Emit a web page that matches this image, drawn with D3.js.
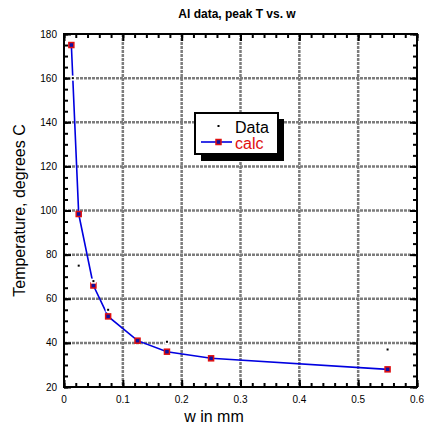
<!DOCTYPE html>
<html>
<head>
<meta charset="utf-8">
<script src="https://cdn.jsdelivr.net/npm/d3@7"></script>
<style>
body { margin: 0; background: #fff; }
text { font-family: Arial, "Liberation Sans", sans-serif; }
</style>
</head>
<body>
<div id="chart"></div>
<script>
// calc series (red squares on blue line)
var calcW = [0.0125, 0.025, 0.05, 0.075, 0.125, 0.175, 0.25, 0.55];
var calcT = [175, 98.4, 66, 52, 41, 36, 33, 28];
// measured data (small dots)
var dataW = [0.015, 0.025, 0.05, 0.075, 0.175, 0.55];
var dataT = [160, 75, 68, 55, 40.5, 37];

var xTicks = [0, 0.1, 0.2, 0.3, 0.4, 0.5, 0.6];
var yTicks = [20, 40, 60, 80, 100, 120, 140, 160, 180];

var width = 424, height = 425;
var pLeft = 64, pRight = 417, pTop = 34, pBottom = 387;

var svg = d3.select('#chart').append('svg')
    .attr('width', width)
    .attr('height', height);

var x = d3.scaleLinear().domain([0, 0.6]).range([pLeft, pRight]);
var y = d3.scaleLinear().domain([20, 180]).range([pBottom, pTop]);

// grid
var grid = svg.append('g')
    .attr('stroke', '#7c7c7c')
    .attr('stroke-width', 2.5)
    .attr('stroke-dasharray', '3,1');
grid.selectAll('.gx').data(xTicks.slice(1, -1)).enter().append('line')
    .attr('x1', d => x(d)).attr('x2', d => x(d))
    .attr('y1', pTop).attr('y2', pBottom);
grid.selectAll('.gy').data(yTicks.slice(1, -1)).enter().append('line')
    .attr('y1', d => y(d)).attr('y2', d => y(d))
    .attr('x1', pLeft).attr('x2', pRight);

// axes with inward ticks on all four sides
function ticks(axis, sc, vals, len) {
    var g = svg.append('g').call(axis(sc).tickValues(vals).tickSize(len).tickFormat(''));
    g.select('.domain').remove();
    g.selectAll('line').attr('stroke', '#000').attr('stroke-width', 2);
    return g;
}
var xMinor = d3.range(0, 0.6001, 0.02);
var yMinor = d3.range(20, 180.01, 5);

ticks(d3.axisTop, x, xMinor, 4).attr('transform', 'translate(0,' + pBottom + ')');
ticks(d3.axisTop, x, xTicks, 7).attr('transform', 'translate(0,' + pBottom + ')');
ticks(d3.axisBottom, x, xMinor, 4).attr('transform', 'translate(0,' + pTop + ')');
ticks(d3.axisBottom, x, xTicks, 7).attr('transform', 'translate(0,' + pTop + ')');
ticks(d3.axisRight, y, yMinor, 4).attr('transform', 'translate(' + pLeft + ',0)');
ticks(d3.axisRight, y, yTicks, 7).attr('transform', 'translate(' + pLeft + ',0)');
ticks(d3.axisLeft, y, yMinor, 4).attr('transform', 'translate(' + pRight + ',0)');
ticks(d3.axisLeft, y, yTicks, 7).attr('transform', 'translate(' + pRight + ',0)');

// frame
svg.append('rect')
    .attr('x', pLeft).attr('y', pTop)
    .attr('width', pRight - pLeft).attr('height', pBottom - pTop)
    .attr('fill', 'none').attr('stroke', '#000').attr('stroke-width', 2);

// tick labels
svg.selectAll('.xl').data(xTicks).enter().append('text')
    .attr('x', d => x(d)).attr('y', 403)
    .attr('text-anchor', 'middle').attr('font-size', 10)
    .text(d => d);
svg.selectAll('.yl').data(yTicks).enter().append('text')
    .attr('x', 57).attr('y', d => y(d) + 3.5)
    .attr('text-anchor', 'end').attr('font-size', 10)
    .text(d => d);

// titles
svg.append('text')
    .attr('x', 237).attr('y', 18)
    .attr('text-anchor', 'middle').attr('font-size', 12).attr('font-weight', 'bold')
    .text('Al data, peak T vs. w');
svg.append('text')
    .attr('x', 214).attr('y', 422)
    .attr('text-anchor', 'middle').attr('font-size', 16)
    .text('w in mm');
svg.append('text')
    .attr('transform', 'translate(25,' + (pTop + pBottom) / 2 + ') rotate(-90)')
    .attr('text-anchor', 'middle').attr('font-size', 16)
    .text('Temperature, degrees C');

// calc line + squares
var calc = calcW.map((w, i) => [w, calcT[i]]);
svg.append('path')
    .datum(calc)
    .attr('fill', 'none').attr('stroke', '#0000e0').attr('stroke-width', 1.6)
    .attr('d', d3.line().x(d => x(d[0])).y(d => y(d[1])));
svg.selectAll('.cs').data(calc).enter().append('rect')
    .attr('x', d => x(d[0]) - 2.5).attr('y', d => y(d[1]) - 2.5)
    .attr('width', 5).attr('height', 5)
    .attr('fill', '#1010a0').attr('stroke', '#e01010').attr('stroke-width', 1.5);

// data points, small dots with a white halo
var pts = dataW.map((w, i) => [w, dataT[i]]);
svg.selectAll('.dh').data(pts).enter().append('rect')
    .attr('x', d => x(d[0]) - 2.5).attr('y', d => y(d[1]) - 2.5)
    .attr('width', 5).attr('height', 5)
    .attr('fill', '#fff');
svg.selectAll('.dp').data(pts).enter().append('rect')
    .attr('x', d => x(d[0]) - 1).attr('y', d => y(d[1]) - 1)
    .attr('width', 2).attr('height', 2)
    .attr('fill', '#000');

// legend
var lg = svg.append('g');
lg.append('rect').attr('x', 201).attr('y', 119).attr('width', 83).attr('height', 42).attr('fill', '#000');
lg.append('rect').attr('x', 195).attr('y', 113).attr('width', 83).attr('height', 41)
    .attr('fill', '#fff').attr('stroke', '#000').attr('stroke-width', 2);
lg.append('rect').attr('x', 217.5).attr('y', 125).attr('width', 2).attr('height', 2).attr('fill', '#000');
lg.append('text').attr('x', 235).attr('y', 133).attr('font-size', 16).text('Data');
lg.append('line').attr('x1', 201).attr('x2', 232).attr('y1', 142).attr('y2', 142)
    .attr('stroke', '#0000e0').attr('stroke-width', 1.6);
lg.append('rect').attr('x', 216).attr('y', 139.5).attr('width', 5).attr('height', 5)
    .attr('fill', '#1010a0').attr('stroke', '#e01010').attr('stroke-width', 1.5);
lg.append('text').attr('x', 235).attr('y', 148.5).attr('font-size', 16).attr('fill', '#e01010').text('calc');
</script>
</body>
</html>
